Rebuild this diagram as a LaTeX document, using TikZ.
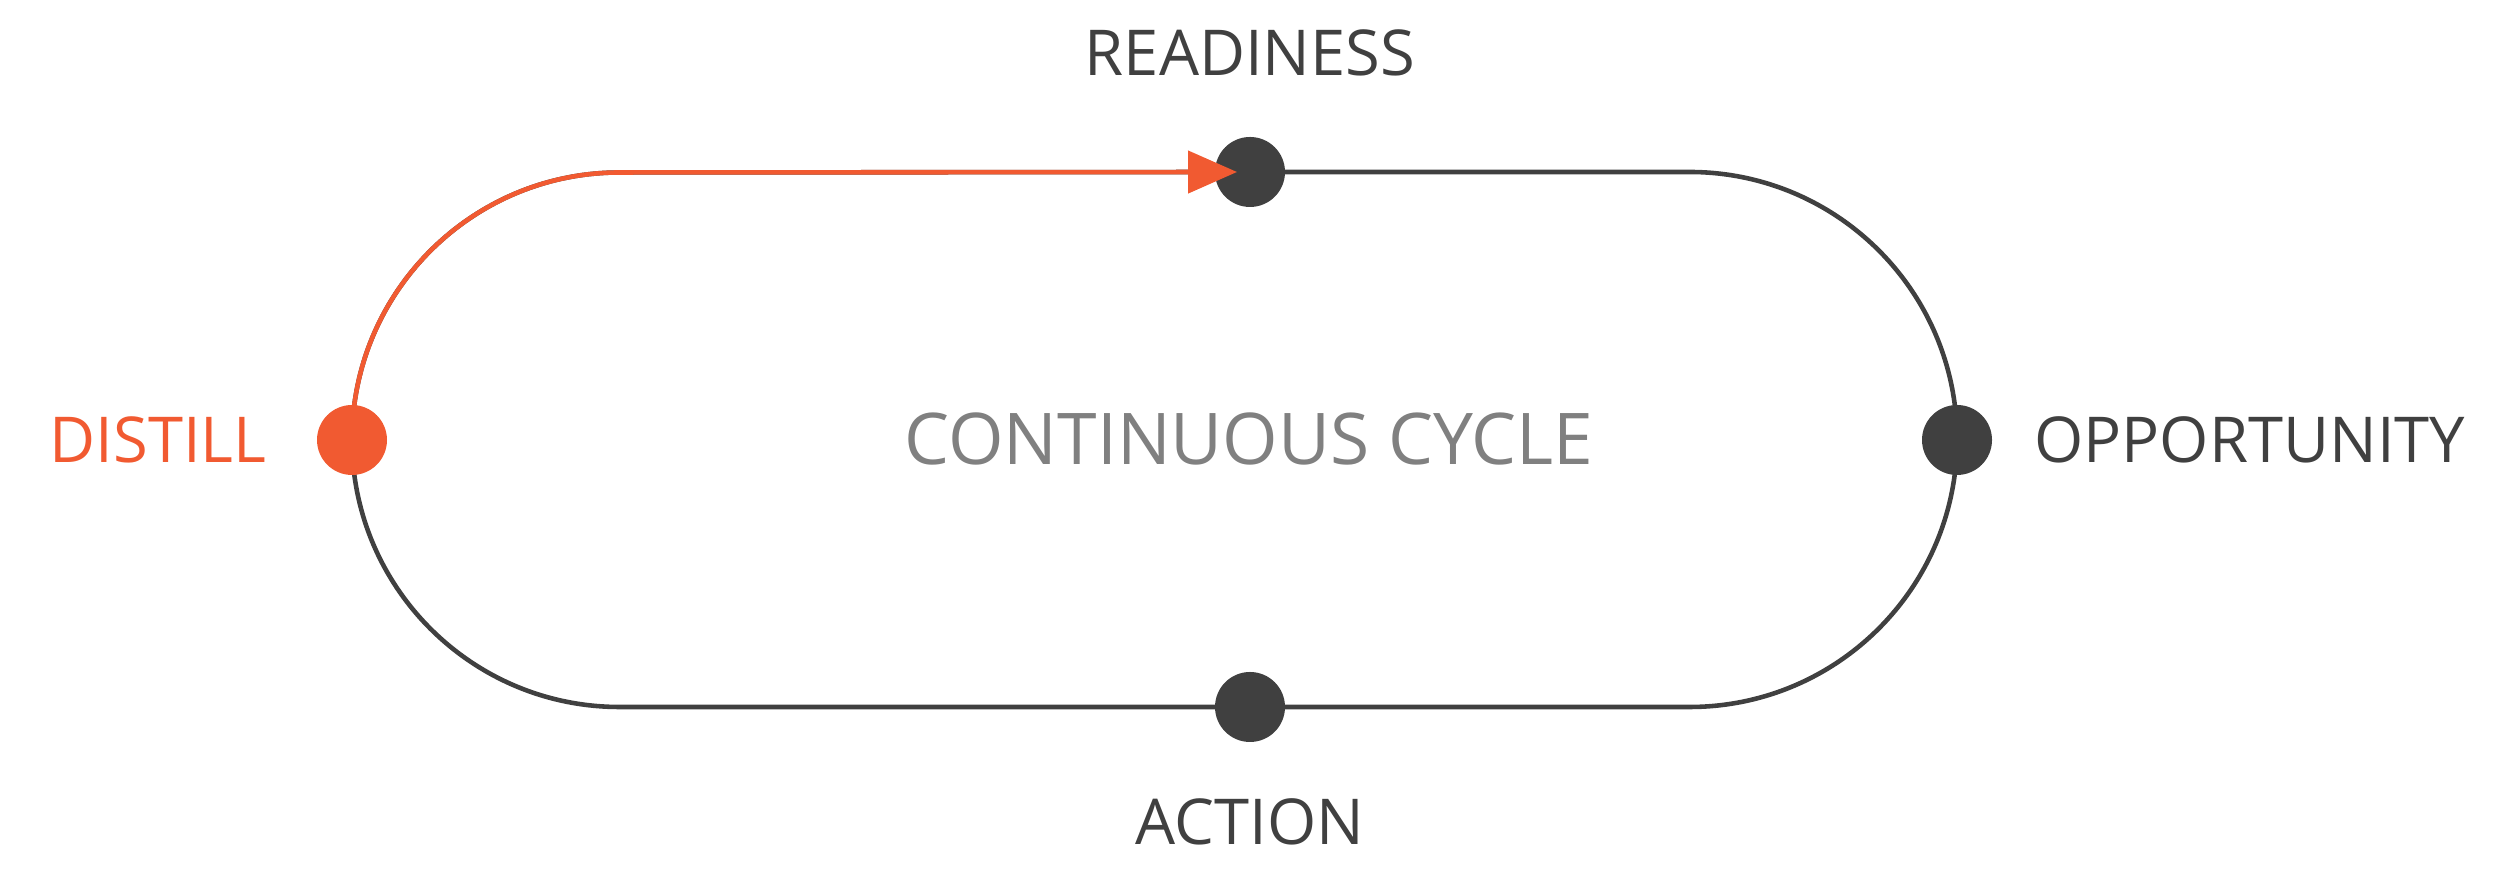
\documentclass[tikz,border=0pt]{standalone}
\usepackage{fontspec}
\setmainfont{Open Sans}
\usepackage{xcolor}
\usetikzlibrary{positioning, arrows.meta, backgrounds}
\definecolor{cycledark}{HTML}{404040}
\definecolor{cycleorange}{HTML}{F15A31}
\definecolor{cyclegray}{HTML}{808080}
\tikzset{
  stage/.style={
    circle,
    minimum size=0.7cm,
    inner sep=0pt,
    fill=cycledark
    },
  active/.style={
    stage,
    fill=cycleorange
    },
  stagename/.style={
    inner sep=0pt,
    font=\fontsize{18}{22}\selectfont,
    text=cycledark
    },
  track/.style={line width=1.3pt, draw=cycledark},
  flow/.style={line width=1.3pt, draw=cycleorange,
    -{Triangle[length=0.49cm, width=0.42cm]}},
}

\begin{document}
\begin{tikzpicture}[
            node distance = 0.5cm, % gap between a stage and its name
            loopbend/.style = {radius=2.675} % half the height of the loop
        ]
  \useasboundingbox (0,0) rectangle (25,8.96);

  \node[active] (distill) at (3.52,4.56) {};
  \node[stage] (readiness) at (12.50,7.24) {};
  \node[stage] (opportunity) at (19.57,4.56) {};
  \node[stage] (action) at (12.50,1.89) {};

  \node[stagename] (readinesstext) [above=0.59cm of readiness] {READINESS};
  \node[stagename] (actiontext) [below=0.55cm of action] {ACTION};
  \node[stagename] (opportunitytext) [right=0.41cm of opportunity] {OPPORTUNITY};
  \node[stagename, text=cycleorange] (distilltext) [left=0.49cm of distill] {DISTILL};
  \node[font=\fontsize{20.3}{24}\selectfont, text=cyclegray] (cycle) at (12.49,4.57) {CONTINUOUS CYCLE};

  % the loop, under the stages
  \begin{scope}[on background layer]
    \draw[track] (distill.center) arc[loopbend, start angle=180, end angle=90]
      -- (readiness.center) -- ++(4.395,0) arc[loopbend, start angle=90, end angle=0]
      arc[loopbend, start angle=0, end angle=-90] -- (action.center)
      -- ++(-6.305,0) arc[loopbend, start angle=270, end angle=180] -- cycle;
  \end{scope}

  \draw[flow, shorten >=0.13cm] (distill.center) arc[loopbend, start angle=180, end angle=90]
    -- (readiness.center);
\end{tikzpicture}
\end{document}
